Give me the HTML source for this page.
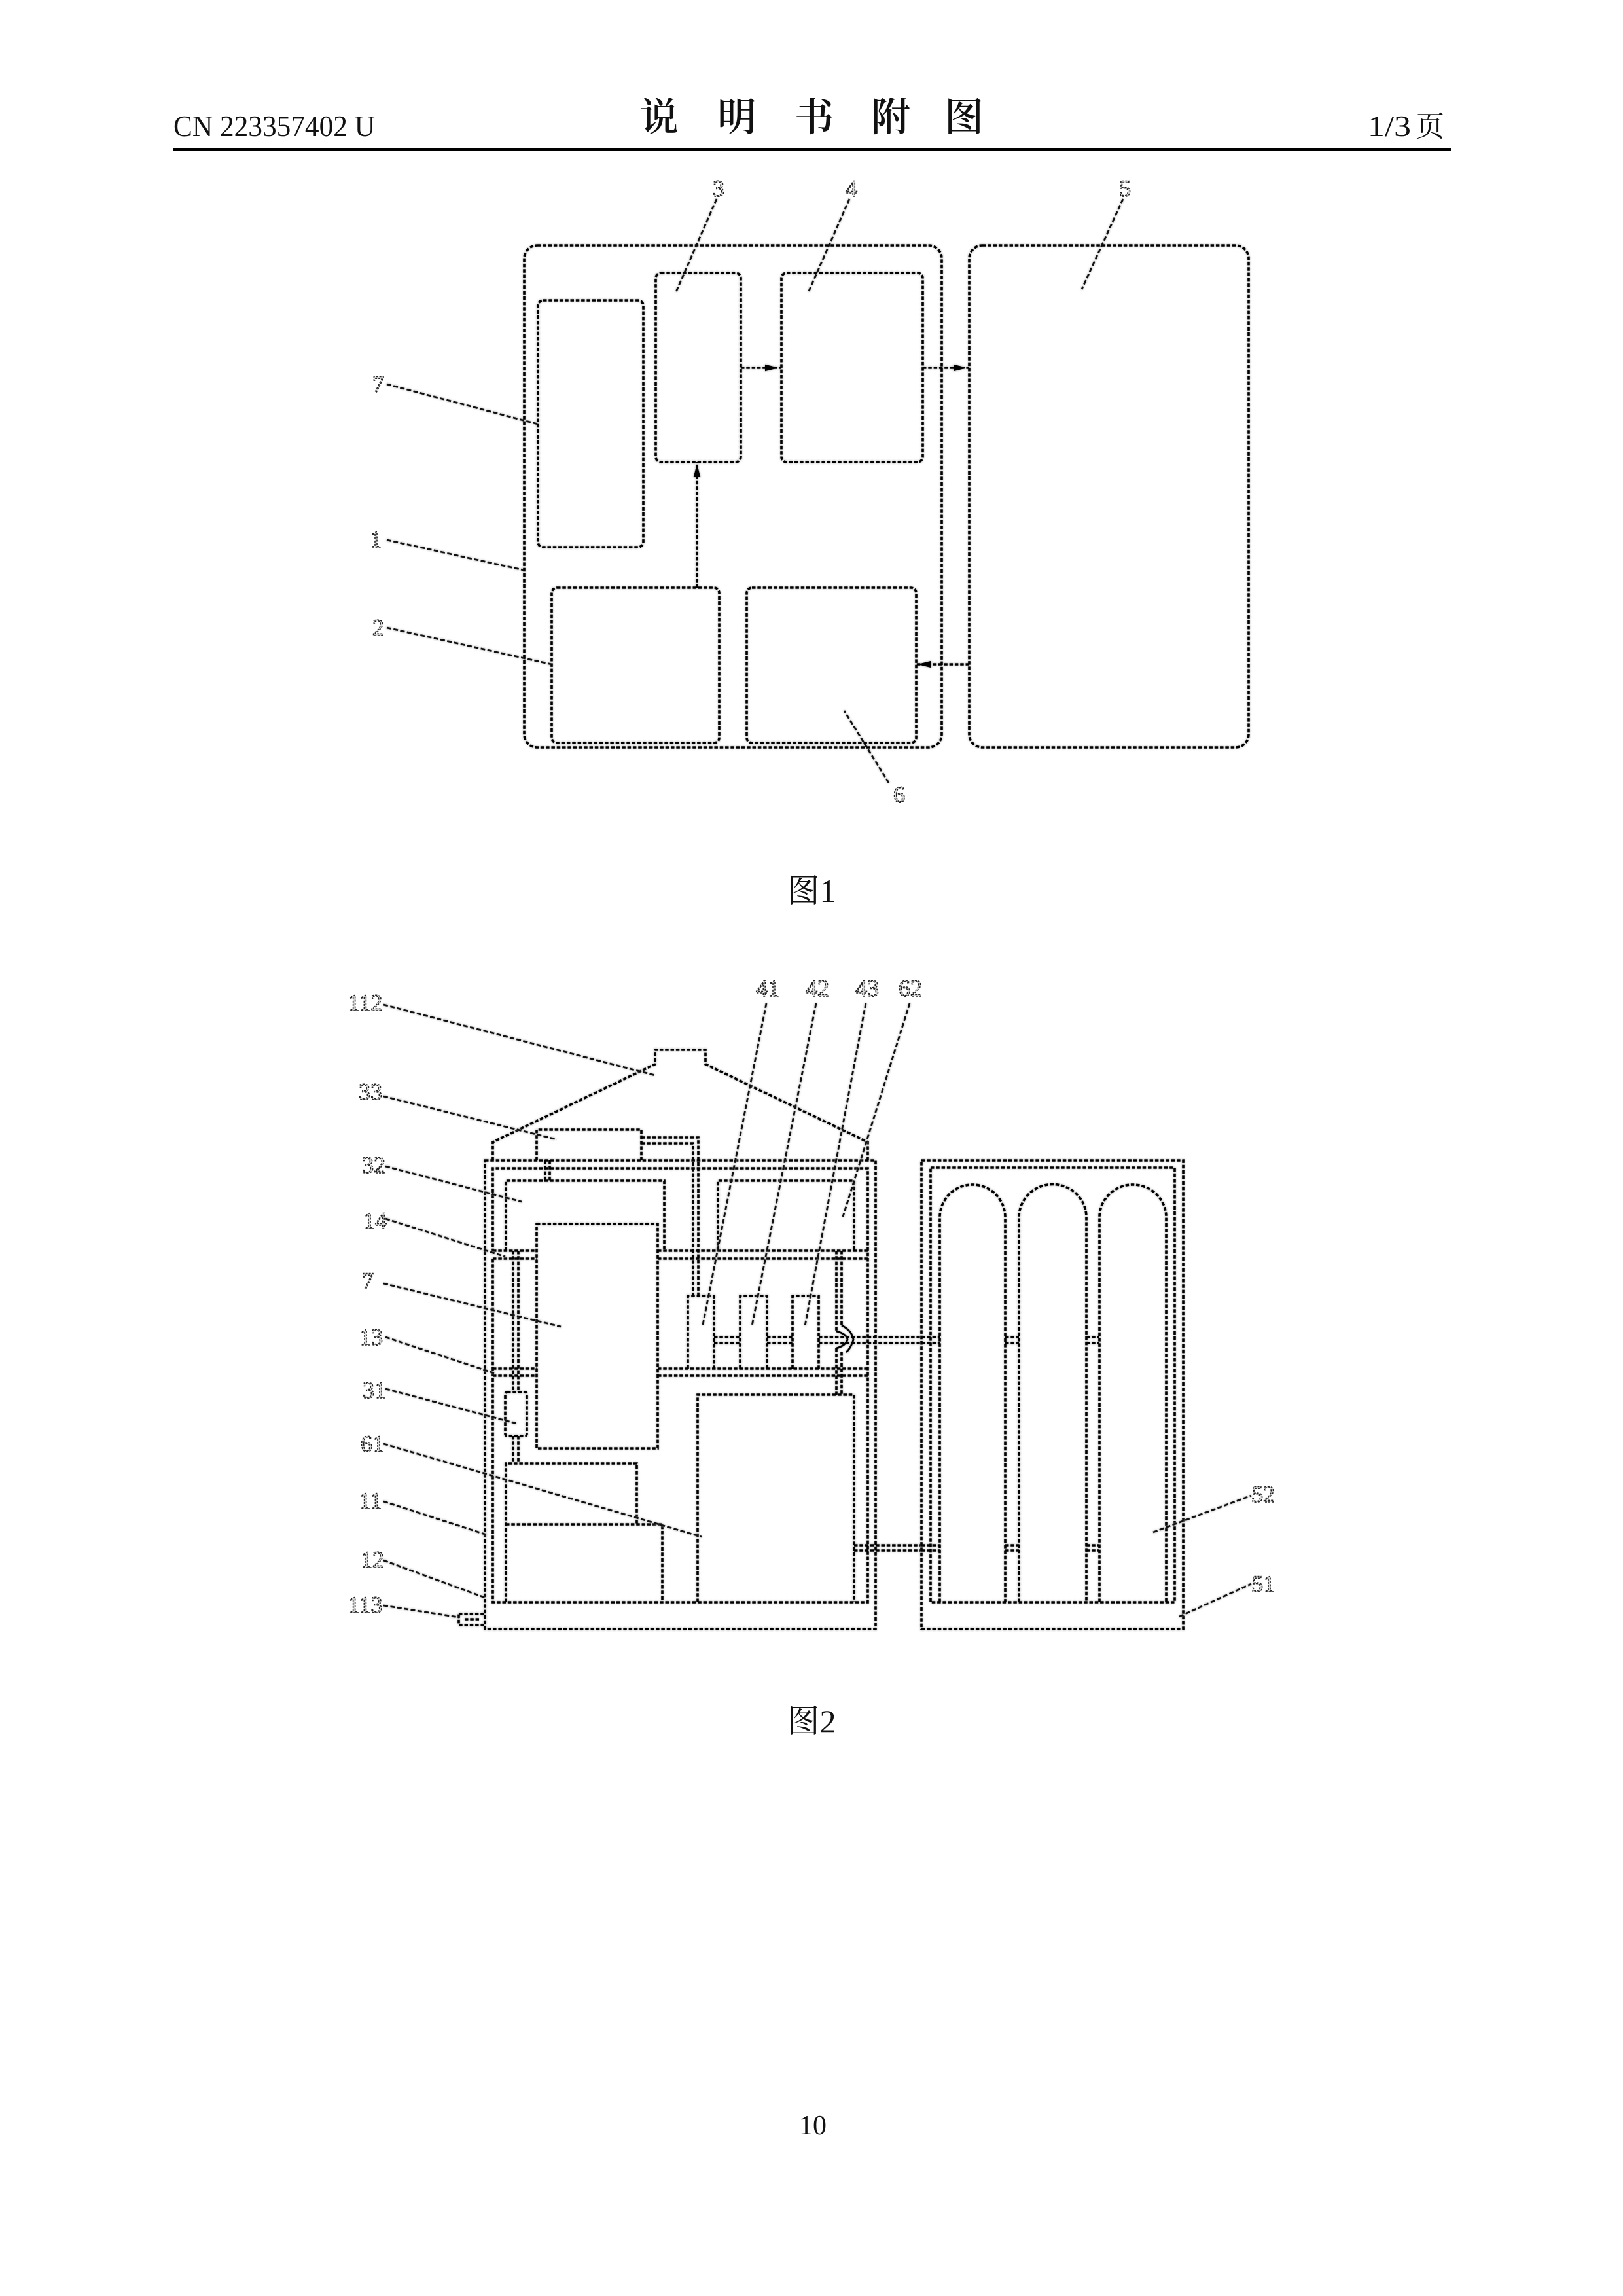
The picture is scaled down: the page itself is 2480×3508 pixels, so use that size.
<!DOCTYPE html>
<html lang="zh">
<head>
<meta charset="utf-8">
<title>说明书附图</title>
<style>
html,body{margin:0;padding:0;background:#fff;width:2480px;height:3508px;overflow:hidden}
svg{display:block}
.d{fill:none;stroke:#000;stroke-width:3.6;stroke-dasharray:5.5 2.8}
.l{fill:none;stroke:#111;stroke-width:2.8;stroke-dasharray:7 3.5}
.s{filter:drop-shadow(0 0 1.5px #999)}
.h{stroke:#000;stroke-width:2;fill:#000}
.n{font-family:"Liberation Serif",serif;font-size:36px;fill:#ddd;stroke:#222;stroke-width:1.6;stroke-dasharray:3 2;text-anchor:middle;dominant-baseline:central}
.t{font-family:"Liberation Serif","Noto Serif CJK SC",serif;fill:#111}
</style>
</head>
<body>
<svg width="2480" height="3508" viewBox="0 0 2480 3508" xmlns="http://www.w3.org/2000/svg">
<rect width="2480" height="3508" fill="#fff"/>

<!-- header -->
<text class="t" x="265" y="208" font-size="46" textLength="308" lengthAdjust="spacingAndGlyphs">CN 223357402 U</text>
<g class="t" font-size="60" text-anchor="middle" font-weight="600" style="font-family:'Noto Serif CJK SC',serif">
<text x="1007" y="200">说</text><text x="1126" y="200">明</text><text x="1244" y="200">书</text><text x="1361" y="200">附</text><text x="1473" y="200">图</text>
</g>
<text class="t" x="2090" y="208" font-size="46" textLength="66" lengthAdjust="spacingAndGlyphs">1/3</text>
<text class="t" x="2163" y="208" font-size="44" style="font-family:'Noto Serif CJK SC',serif">页</text>
<rect x="265" y="226" width="1952" height="5" fill="#000"/>

<!-- FIG 1 -->
<g class="s">
<rect class="d" x="801" y="375" width="638" height="767" rx="20"/>
<rect class="d" x="1481" y="375" width="427" height="767" rx="20"/>
<rect class="d" x="1002" y="417" width="130" height="289" rx="8"/>
<rect class="d" x="1194" y="417" width="216" height="289" rx="8"/>
<rect class="d" x="822" y="459" width="161" height="377" rx="8"/>
<rect class="d" x="843" y="898" width="256" height="237" rx="8"/>
<rect class="d" x="1141" y="898" width="259" height="237" rx="8"/>
<path class="d" d="M1132 562H1194M1410 562H1481M1481 1015H1400M1065 898V706"/>
<path class="h" d="M1170 558L1186 562L1170 566ZM1458 558L1474 562L1458 566ZM1422 1011L1406 1015L1422 1019ZM1061 728L1065 712L1069 728Z"/>
<path class="l" d="M1095 304L1033 446M1298 304L1235 447M1716 304L1653 442M591 587L822 648M591 825L800 871M591 959L843 1015M1358 1196L1290 1086"/>
</g>
<text class="n" x="1098" y="288">3</text>
<text class="n" x="1301" y="288">4</text>
<text class="n" x="1719" y="288">5</text>
<text class="n" x="578" y="587">7</text>
<text class="n" x="574" y="824">1</text>
<text class="n" x="578" y="959">2</text>
<text class="n" x="1374" y="1214">6</text>
<text class="t" x="1240" y="1378" font-size="50" text-anchor="middle">图1</text>

<!-- FIG 2 left cabinet -->
<g class="s">
<rect class="d" x="741" y="1773" width="597" height="716"/>
<path class="d" d="M753 1923V2448H1326V1785H753V1911"/>
<path class="d" d="M753 1773V1745L1001 1626V1604H1078V1626L1326 1745V1773"/>
<path class="d" d="M820 1773V1726H980V1773"/>
<path class="d" d="M980 1738H1067V1980M980 1747H1059V1980"/>
<path class="d" d="M833 1773V1804M840 1773V1804"/>
<path class="d" d="M773 1911V1804H1015V1911"/>
<path class="d" d="M1097 1911V1804H1305V1911"/>
<path class="d" d="M753 1911H820M1005 1911H1326M753 1923H820M1005 1923H1326"/>
<path class="d" d="M753 2091H820M1005 2091H1326M753 2102H820M1005 2102H1326"/>
<rect class="d" x="820" y="1870" width="185" height="343"/>
<rect class="d" x="772" y="2127" width="33" height="67" rx="3"/>
<path class="d" d="M784 1911V2127M792 1911V2127M784 2194V2236M792 2194V2236"/>
<path class="d" d="M773 2448V2236H973V2329M773 2329H1012V2448"/>
<path class="d" d="M1066 2448V2131H1305V2448"/>
<path class="d" d="M1051 2091V1980H1091V2091M1131 2091V1980H1172V2091M1211 2091V1980H1251V2091"/>
<path class="d" d="M1091 2043H1131M1091 2052H1131M1172 2043H1211M1172 2052H1211M1251 2043H1408M1251 2052H1408"/>
<path class="d" d="M1278 1911V2034M1286 1911V2025M1278 2060V2131M1286 2066V2131"/>
<path fill="none" stroke="#000" stroke-width="2.8" d="M1286 2025Q1302 2033 1304 2047Q1300 2060 1293 2066M1278 2034Q1294 2038 1295 2047Q1292 2056 1278 2060"/>
<path class="d" d="M1305 2361H1408M1305 2369H1408"/>
<rect class="d" x="701" y="2466" width="40" height="17"/>
<path class="d" d="M710 2474H732"/>
</g>

<!-- FIG 2 right unit -->
<g class="s">
<rect class="d" x="1408" y="1773" width="400" height="716"/>
<rect class="d" x="1422" y="1784" width="373" height="664"/>
<path class="d" d="M1436 2448V1860A50 50 0 0 1 1536 1860V2448"/>
<path class="d" d="M1557 2448V1860A51 50 0 0 1 1660 1860V2448"/>
<path class="d" d="M1680 2448V1860A51 50 0 0 1 1782 1860V2448"/>
<path class="d" d="M1408 2043H1436M1408 2052H1436M1408 2361H1436M1408 2369H1436"/>
<path class="d" d="M1536 2043H1557M1536 2052H1557M1660 2043H1680M1660 2052H1680M1536 2361H1557M1536 2369H1557M1660 2361H1680M1660 2369H1680"/>
</g>

<!-- FIG 2 leaders -->
<g class="s">
<path class="l" d="M586 1535L1001 1643M586 1675L851 1741M589 1782L797 1836M589 1862L772 1920M586 1961L857 2027M589 2043L755 2098M589 2122L790 2175M586 2206L1072 2348M586 2294L744 2345M586 2384L741 2441M586 2453L701 2471"/>
<path class="l" d="M1171 1533L1074 2024M1247 1533L1149 2026M1323 1533L1230 2026M1390 1533L1288 1859"/>
<path class="l" d="M1762 2341L1912 2285M1802 2470L1912 2420"/>
</g>

<g>
<text class="n" x="558" y="1532">112</text>
<text class="n" x="566" y="1668">33</text>
<text class="n" x="571" y="1780">32</text>
<text class="n" x="573" y="1865">14</text>
<text class="n" x="562" y="1957">7</text>
<text class="n" x="567" y="2043">13</text>
<text class="n" x="572" y="2124">31</text>
<text class="n" x="569" y="2206">61</text>
<text class="n" x="566" y="2293">11</text>
<text class="n" x="569" y="2383">12</text>
<text class="n" x="558" y="2452">113</text>
<text class="n" x="1173" y="1510">41</text>
<text class="n" x="1249" y="1510">42</text>
<text class="n" x="1325" y="1510">43</text>
<text class="n" x="1391" y="1510">62</text>
<text class="n" x="1930" y="2283">52</text>
<text class="n" x="1930" y="2420">51</text>
</g>

<text class="t" x="1240" y="2647" font-size="50" text-anchor="middle">图2</text>
<text class="t" x="1242" y="3261" font-size="42" text-anchor="middle">10</text>
</svg>
</body>
</html>
